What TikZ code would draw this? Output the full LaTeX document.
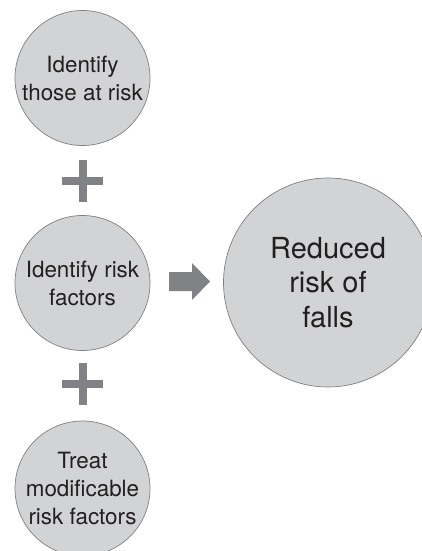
\documentclass[tikz,border=0pt]{standalone}
\usepackage{fontspec}
\setmainfont{TeX Gyre Heros}
\definecolor{cfill}{HTML}{D2D3D5}
\definecolor{cline}{HTML}{7F8083}
\definecolor{csym}{HTML}{808285}
\definecolor{ctext}{HTML}{231F20}
\begin{document}
\begin{tikzpicture}[x=1pt,y=-1pt,
  bubble/.style={circle,fill=cfill,draw=cline,line width=0.7pt,inner sep=0pt,
    minimum size=135pt,align=center,text=ctext,
    font=\fontsize{22.4}{28}\selectfont},
  bigbubble/.style={bubble,minimum size=209pt,font=\fontsize{29}{34.5}\selectfont},
  plusbar/.style={fill=csym}]
\useasboundingbox (0,0) rectangle (422,551);
\clip (0,0) rectangle (422,551);
\fill[white] (0,0) rectangle (422,551);
\node[bubble] (c1) at (82.5,78) {Identify\\those at risk};
\node[bubble] (c2) at (82.5,283) {Identify risk\\factors};
\node[bubble] (c3) at (82.5,488.5) {Treat\\modificable\\risk factors};
\node[bigbubble] (r) at (328,282.5) {Reduced\\risk of\\falls};
% plus signs
\coordinate (p1) at (82.5,181);
\coordinate (p2) at (82.5,384);
\foreach \p in {p1,p2}{
  \fill[plusbar] ([xshift=-20.5pt,yshift=4pt]\p) rectangle ([xshift=20.5pt,yshift=-4pt]\p);
  \fill[plusbar] ([xshift=-4pt,yshift=21pt]\p) rectangle ([xshift=4pt,yshift=-21pt]\p);
}
% arrow
\coordinate (a) at (189.5,281.5);
\fill[csym] ([xshift=-20.5pt,yshift=-9.5pt]a) -- ([xshift=2.5pt,yshift=-9.5pt]a)
  -- ([xshift=2.5pt,yshift=-18.5pt]a) -- ([xshift=20.5pt]a)
  -- ([xshift=2.5pt,yshift=18.5pt]a) -- ([xshift=2.5pt,yshift=9.5pt]a)
  -- ([xshift=-20.5pt,yshift=9.5pt]a) -- cycle;
\end{tikzpicture}
\end{document}
